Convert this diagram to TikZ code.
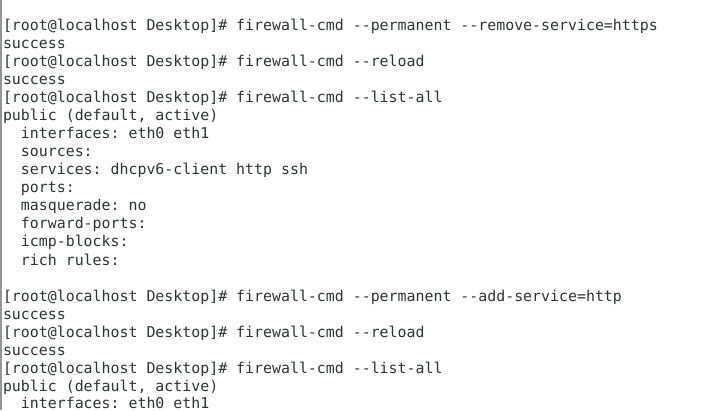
\documentclass[tikz,border=0pt]{standalone}
\usepackage{fontspec}
\setmonofont{DejaVu Sans Mono}
\definecolor{termtext}{RGB}{46,52,54}
\definecolor{edgegray}{RGB}{150,150,150}
\begin{document}
\begin{tikzpicture}[x=1pt,y=1pt,
  termline/.style={anchor=base west, inner sep=0pt, outer sep=0pt, text=termtext,
    font=\fontsize{14.9}{18}\selectfont\ttfamily}]
\useasboundingbox (0,0) rectangle (720,410);
\clip (0,0) rectangle (720,410);
\fill[white] (0,0) rectangle (720,410);
\draw[edgegray, line width=1.5pt] (0.75,0) -- (0.75,410);
\node[termline] (l1) at (3,379) {[root@localhost Desktop]\# firewall-cmd -{}-permanent -{}-remove-service=https};
\node[termline] (l2) at (3,361) {success};
\node[termline] (l3) at (3,343) {[root@localhost Desktop]\# firewall-cmd -{}-reload};
\node[termline] (l4) at (3,325) {success};
\node[termline] (l5) at (3,307) {[root@localhost Desktop]\# firewall-cmd -{}-list-all};
\node[termline] (l6) at (3,289) {public (default, active)};
\node[termline] (l7) at (3,271) {\ \ interfaces: eth0 eth1};
\node[termline] (l8) at (3,253) {\ \ sources:};
\node[termline] (l9) at (3,235) {\ \ services: dhcpv6-client http ssh};
\node[termline] (l10) at (3,217) {\ \ ports:};
\node[termline] (l11) at (3,199) {\ \ masquerade: no};
\node[termline] (l12) at (3,181) {\ \ forward-ports:};
\node[termline] (l13) at (3,163) {\ \ icmp-blocks:};
\node[termline] (l14) at (3,145) {\ \ rich rules:};
\node[termline] (l16) at (3,109) {[root@localhost Desktop]\# firewall-cmd -{}-permanent -{}-add-service=http};
\node[termline] (l17) at (3,91) {success};
\node[termline] (l18) at (3,73) {[root@localhost Desktop]\# firewall-cmd -{}-reload};
\node[termline] (l19) at (3,55) {success};
\node[termline] (l20) at (3,37) {[root@localhost Desktop]\# firewall-cmd -{}-list-all};
\node[termline] (l21) at (3,19) {public (default, active)};
\node[termline] (l22) at (3,2) {\ \ interfaces: eth0 eth1};
\end{tikzpicture}
\end{document}
